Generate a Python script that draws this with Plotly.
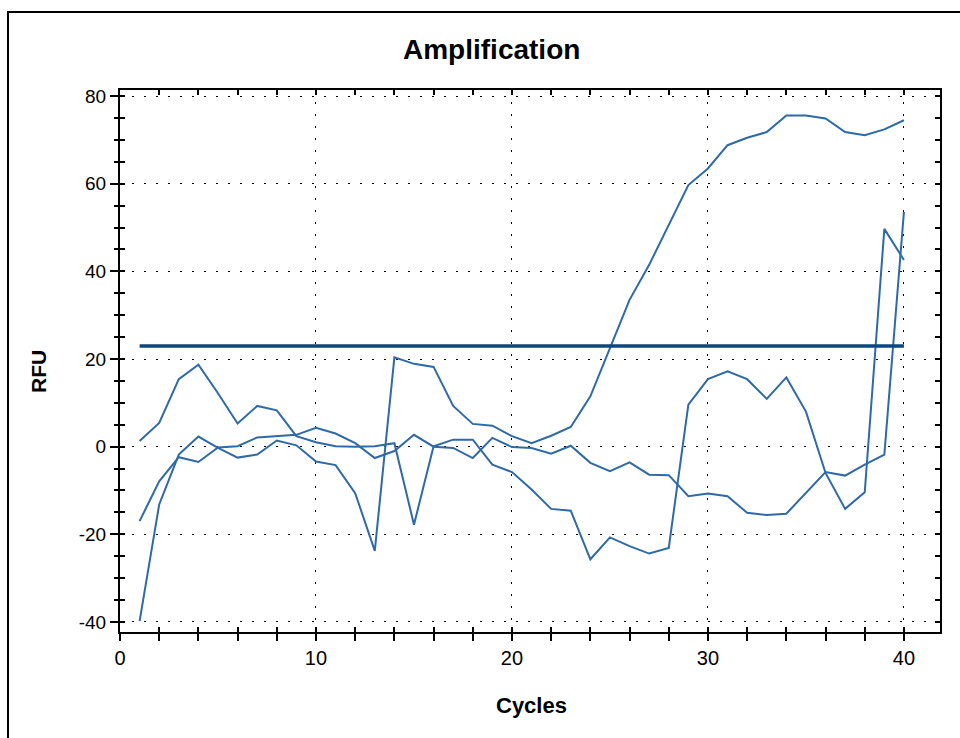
import plotly.graph_objects as go

# Cycle numbers and fluorescence readings (RFU) for each well
cycles = list(range(1, 41))

well_a = [1.3, 5.4, 15.4, 18.7, 12.2, 5.3, 9.3, 8.3, 2.4, 1.0,
          0.1, 0.0, 0.1, 0.8, -17.8, 0.1, 1.6, 1.6, -4.1, -5.8,
          -9.8, -14.2, -14.6, -25.7, -20.7, -22.7, -24.4, -23.1, 9.6, 15.4,
          17.2, 15.4, 10.9, 15.8, 8.0, -6.0, -14.2, -10.4, 49.7, 42.6]

well_b = [-17.0, -7.9, -2.4, -3.5, -0.2, 0.1, 2.1, 2.4, 2.7, 4.3,
          3.0, 0.8, -2.6, -1.0, 2.7, 0.0, -0.3, -2.6, 2.0, -0.1,
          -0.3, -1.6, 0.2, -3.7, -5.6, -3.6, -6.4, -6.5, -11.3, -10.7,
          -11.3, -15.1, -15.6, -15.3, -10.6, -5.8, -6.6, -4.1, -1.8, 53.6]

well_c = [-39.8, -13.2, -1.8, 2.3, -0.3, -2.5, -1.8, 1.4, 0.3, -3.4,
          -4.2, -10.6, -23.8, 20.4, 18.9, 18.2, 9.3, 5.2, 4.8, 2.4,
          0.8, 2.5, 4.5, 11.5, 22.5, 33.5, 41.5, 50.5, 59.7, 63.5,
          68.8, 70.5, 71.8, 75.6, 75.6, 74.9, 71.8, 71.1, 72.4, 74.5]

threshold = 23.0
threshold_span = [1, 40]

x_ticks = [0, 10, 20, 30, 40]
y_ticks = [-40, -20, 0, 20, 40, 60, 80]
y_tick_text = ["-40", "-20", "0", "20", "40", "60", "80"]

x_range = [0, 41.84]
y_range = [-42.3, 81.4]

LINE_COLOR = "#2f6aa6"
THRESH_COLOR = "#0c4682"
FONT = "Liberation Sans, Arial, sans-serif"

fig = go.Figure()
for ys in (well_a, well_b, well_c):
    fig.add_trace(go.Scatter(x=cycles, y=ys, mode="lines",
                             line=dict(color=LINE_COLOR, width=2),
                             showlegend=False, hoverinfo="skip"))

fig.add_trace(go.Scatter(x=threshold_span, y=[threshold, threshold], mode="lines",
                         line=dict(color=THRESH_COLOR, width=3.5),
                         showlegend=False, hoverinfo="skip"))

grid_dash = "2px,10px"

fig.update_layout(
    width=960, height=738,
    margin=dict(l=120, r=20, t=90, b=106),
    paper_bgcolor="white", plot_bgcolor="white",
    font=dict(family=FONT, color="black"),
    xaxis=dict(
        range=x_range, showline=True, linecolor="black", linewidth=2, mirror=True,
        ticks="outside", ticklen=7, tickwidth=1.5, tickcolor="black",
        tickvals=x_ticks, ticktext=[str(v) for v in x_ticks],
        minor=dict(dtick=2, tick0=0, ticks="outside", ticklen=7, tickwidth=1.5,
                   tickcolor="black", showgrid=False),
        showgrid=True, gridcolor="black", gridwidth=1.3, griddash=grid_dash,
        tickfont=dict(size=20, family=FONT), zeroline=False,
    ),
    xaxis2=dict(
        range=x_range, overlaying="x", anchor="y", side="bottom",
        showline=False, ticks="inside", ticklen=5, tickwidth=1.5, tickcolor="black",
        mirror="ticks", dtick=2, tick0=0, showticklabels=False,
        showgrid=False, zeroline=False,
    ),
    yaxis=dict(
        range=y_range, showline=True, linecolor="black", linewidth=2, mirror=True,
        ticks="outside", ticklen=8, tickwidth=1.5, tickcolor="black",
        tickvals=y_ticks, ticktext=y_tick_text,
        minor=dict(dtick=5, tick0=0, ticks="outside", ticklen=4, tickwidth=1.5,
                   tickcolor="black", showgrid=False),
        showgrid=True, gridcolor="black", gridwidth=1.3, griddash=grid_dash,
        tickfont=dict(size=19, family=FONT), zeroline=False,
    ),
    yaxis2=dict(
        range=y_range, overlaying="y", anchor="x", side="left",
        showline=False, ticks="inside", ticklen=5, tickwidth=1.5, tickcolor="black",
        mirror="ticks", dtick=5, tick0=0, showticklabels=False,
        showgrid=False, zeroline=False,
    ),
)

# helper trace so the overlay axes are drawn
fig.add_trace(go.Scatter(x=[None], y=[None], xaxis="x2", yaxis="y2",
                         showlegend=False, hoverinfo="skip"))

# titles
fig.add_annotation(text="<b>Amplification</b>", xref="paper", yref="paper",
                   x=(491 - 120) / 820, y=(632 - 49) / 542, xanchor="center", yanchor="middle",
                   showarrow=False, font=dict(size=28, family=FONT, color="black"))
fig.add_annotation(text="<b>Cycles</b>", xref="paper", yref="paper",
                   x=(531 - 120) / 820, y=(632 - 705) / 542, xanchor="center", yanchor="middle",
                   showarrow=False, font=dict(size=22, family=FONT, color="black"))
fig.add_annotation(text="<b>RFU</b>", xref="paper", yref="paper", textangle=-90,
                   x=(38 - 120) / 820, y=(632 - 372) / 542, xanchor="center", yanchor="middle",
                   showarrow=False, font=dict(size=21, family=FONT, color="black"))

# outer frame around the chart
fig.add_shape(type="rect", xref="paper", yref="paper",
              x0=(8 - 120) / 820, x1=(975 - 120) / 820,
              y0=(632 - 760) / 542, y1=(632 - 12) / 542,
              line=dict(color="black", width=2), fillcolor="rgba(0,0,0,0)", layer="above")

fig.write_html("out.html")
